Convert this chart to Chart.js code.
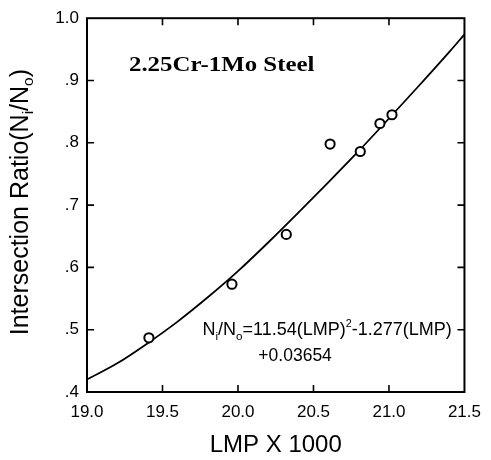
<!DOCTYPE html>
<html>
<head>
<meta charset="utf-8">
<script src="https://cdn.jsdelivr.net/npm/chart.js@4/dist/chart.umd.min.js"></script>
<style>
  html, body { margin: 0; padding: 0; background: #fff; }
  #wrap { width: 491px; height: 460px; position: relative; }
</style>
</head>
<body>
<div id="wrap"><canvas id="c"></canvas></div>
<script>
// ---- data ----
const pointsX = [19.41, 19.96, 20.32, 20.61, 20.81, 20.94, 21.02];
const pointsY = [0.487, 0.573, 0.653, 0.798, 0.786, 0.831, 0.845];

const curveX = [19.0, 19.2, 19.4, 19.6, 19.8, 20.0, 20.2, 20.4, 20.6, 20.8, 21.0, 21.2, 21.4, 21.5];
const curveY = [0.420, 0.446, 0.478, 0.513, 0.552, 0.594, 0.640, 0.688, 0.737, 0.787, 0.839, 0.892, 0.946, 0.974];

const xTickValues = [19.0, 19.5, 20.0, 20.5, 21.0, 21.5];
const xTickLabels = ['19.0', '19.5', '20.0', '20.5', '21.0', '21.5'];
const yTickValues = [0.4, 0.5, 0.6, 0.7, 0.8, 0.9, 1.0];
const yTickLabels = ['.4', '.5', '.6', '.7', '.8', '.9', '1.0'];

const xTitle = 'LMP X 1000';
const panelTitle = '2.25Cr-1Mo Steel';
const eqConst = '+0.03654';

const SANS = '"Liberation Sans", Arial, Helvetica, sans-serif';
const SERIF = '"Liberation Serif", "Times New Roman", serif';

function drawRich(ctx, parts, x, y, baseSize, align) {
  let total = 0;
  parts.forEach(p => {
    ctx.font = (baseSize * (p.s || 1)) + 'px ' + SANS;
    p.w = ctx.measureText(p.t).width;
    total += p.w;
  });
  let cx = align === 'center' ? x - total / 2 : x;
  ctx.textAlign = 'left';
  ctx.textBaseline = 'alphabetic';
  parts.forEach(p => {
    ctx.font = (baseSize * (p.s || 1)) + 'px ' + SANS;
    ctx.fillText(p.t, cx, y + (p.dy || 0));
    cx += p.w;
  });
}

const framePlugin = {
  id: 'frameAndText',
  afterDraw(chart) {
    const ctx = chart.ctx;
    const a = chart.chartArea;
    const xs = chart.scales.x, ys = chart.scales.y;
    ctx.save();
    ctx.strokeStyle = '#000';
    ctx.fillStyle = '#000';
    ctx.lineWidth = 2;
    ctx.strokeRect(a.left, a.top, a.right - a.left, a.bottom - a.top);
    const tl = 7;
    ctx.lineWidth = 1.6;
    ctx.beginPath();
    xTickValues.forEach(v => {
      const px = xs.getPixelForValue(v);
      if (px <= a.left + 1 || px >= a.right - 1) return;
      ctx.moveTo(px, a.bottom); ctx.lineTo(px, a.bottom - tl);
      ctx.moveTo(px, a.top); ctx.lineTo(px, a.top + tl);
    });
    yTickValues.forEach(v => {
      const py = ys.getPixelForValue(v);
      if (py <= a.top + 1 || py >= a.bottom - 1) return;
      ctx.moveTo(a.left, py); ctx.lineTo(a.left + tl, py);
      ctx.moveTo(a.right, py); ctx.lineTo(a.right - tl, py);
    });
    ctx.stroke();

    // y axis title (rotated, with subscripts)
    ctx.save();
    ctx.translate(a.left - 59, (a.top + a.bottom) / 2 - 3);
    ctx.rotate(-Math.PI / 2);
    drawRich(ctx, [
      {t: 'Intersection Ratio(N'},
      {t: 'i', s: 0.62, dy: 5},
      {t: '/N'},
      {t: 'o', s: 0.62, dy: 5},
      {t: ')'}
    ], 0, 0, 25, 'center');
    ctx.restore();

    // panel title
    ctx.save();
    ctx.translate(xs.getPixelForValue(19.278), ys.getPixelForValue(0.916));
    ctx.scale(1.13, 1);
    ctx.font = 'bold 22px ' + SERIF;
    ctx.textAlign = 'left';
    ctx.textBaseline = 'alphabetic';
    ctx.fillText(panelTitle, 0, 0);
    ctx.restore();

    // equation
    drawRich(ctx, [
      {t: 'N'},
      {t: 'i', s: 0.65, dy: 5},
      {t: '/N'},
      {t: 'o', s: 0.65, dy: 5},
      {t: '=11.54(LMP)'},
      {t: '2', s: 0.6, dy: -8},
      {t: '-1.277(LMP)'}
    ], xs.getPixelForValue(19.765), ys.getPixelForValue(0.492), 18, 'left');
    drawRich(ctx, [{t: eqConst}], xs.getPixelForValue(20.135), ys.getPixelForValue(0.449), 17.5, 'left');
    ctx.restore();
  }
};

const curveData = curveX.map((x, i) => ({x: x, y: curveY[i]}));
const pointData = pointsX.map((x, i) => ({x: x, y: pointsY[i]}));

new Chart(document.getElementById('c'), {
  type: 'scatter',
  data: {
    datasets: [
      {
        label: 'measured',
        data: pointData,
        order: 0,
        pointStyle: 'circle',
        pointRadius: 4.6,
        pointBorderWidth: 2,
        pointBackgroundColor: '#fff',
        pointBorderColor: '#000',
        showLine: false
      },
      {
        label: 'fit',
        data: curveData,
        order: 1,
        showLine: true,
        pointRadius: 0,
        borderColor: '#000',
        borderWidth: 1.8,
        cubicInterpolationMode: 'monotone',
        fill: false
      }
    ]
  },
  options: {
    responsive: true,
    maintainAspectRatio: false,
    animation: false,
    devicePixelRatio: 1,
    layout: { padding: { top: 13, right: 17, left: 0, bottom: 0 } },
    plugins: { legend: { display: false }, tooltip: { enabled: false } },
    scales: {
      x: {
        type: 'linear',
        min: 19.0,
        max: 21.5,
        afterBuildTicks: s => { s.ticks = xTickValues.map(v => ({value: v})); },
        afterFit: s => { s.height = 68; },
        grid: { display: false, drawTicks: false },
        border: { display: false },
        ticks: {
          callback: (v, i) => xTickLabels[i],
          font: { family: SANS, size: 17 },
          color: '#000',
          padding: 10,
          maxRotation: 0,
          autoSkip: false
        },
        title: {
          display: true,
          text: xTitle,
          font: { family: SANS, size: 24 },
          color: '#000',
          padding: { top: 0, bottom: 0 }
        }
      },
      y: {
        type: 'linear',
        min: 0.4,
        max: 1.0,
        afterBuildTicks: s => { s.ticks = yTickValues.map(v => ({value: v})); },
        afterFit: s => { s.width = 87; },
        grid: { display: false, drawTicks: false },
        border: { display: false },
        ticks: {
          callback: (v, i) => yTickLabels[i],
          font: { family: SANS, size: 17 },
          color: '#000',
          padding: 8,
          autoSkip: false
        }
      }
    }
  },
  plugins: [framePlugin]
});
</script>
</body>
</html>
